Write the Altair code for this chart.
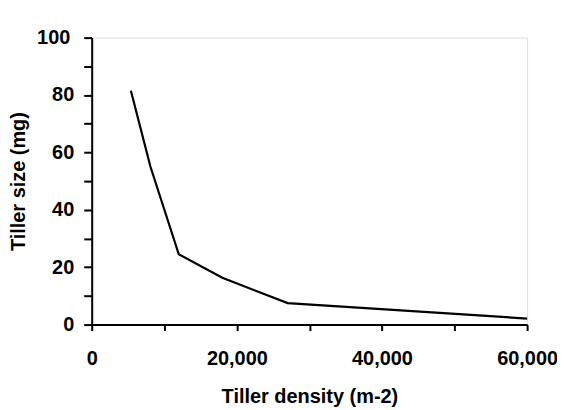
import altair as alt
import pandas as pd

density = [5400, 8100, 12000, 18000, 27000, 60000]
size_mg = [81.5, 55.0, 24.5, 16.3, 7.5, 2.1]

df = pd.DataFrame({"density": density, "size": size_mg})

FONT = "Liberation Sans"

chart = alt.Chart(df).mark_line(color="black", strokeWidth=2.2).encode(
    x=alt.X("density:Q",
            scale=alt.Scale(domain=[0, 60000], nice=False, zero=True),
            axis=alt.Axis(title="Tiller density (m-2)",
                          values=[0, 10000, 20000, 30000, 40000, 50000, 60000],
                          labelExpr="datum.value % 20000 == 0 ? format(datum.value, ',') : ''",
                          labelFlush=False, labelOverlap=False,
                          grid=False, domainColor="black", domainWidth=2,
                          tickColor="black", tickWidth=2, tickSize=6,
                          labelFont=FONT, labelFontSize=20, labelFontWeight="bold",
                          labelColor="black", labelPadding=18,
                          titleFont=FONT, titleFontSize=20, titleFontWeight="bold",
                          titleColor="black",
                          titleX=218.5, titleY=78, titleAlign="center",
                          titleBaseline="alphabetic")),
    y=alt.Y("size:Q",
            scale=alt.Scale(domain=[0, 100], nice=False),
            axis=alt.Axis(title="Tiller size (mg)",
                          values=[0, 10, 20, 30, 40, 50, 60, 70, 80, 90, 100],
                          labelExpr="datum.value % 20 == 0 ? datum.value : ''",
                          labelFlush=False, labelOverlap=False,
                          grid=False, domainColor="black", domainWidth=2,
                          tickColor="black", tickWidth=2, tickSize=8,
                          labelFont=FONT, labelFontSize=20, labelFontWeight="bold",
                          labelColor="black",
                          labelPadding={"condition": {"test": "datum.value == 100", "value": 14},
                                        "value": 10},
                          titleFont=FONT, titleFontSize=20, titleFontWeight="bold",
                          titleColor="black",
                          titleX=-73, titleY=144, titleAlign="center",
                          titleAngle=270, titleBaseline="middle")),
    order=alt.Order("density:Q"),
).properties(
    width=437, height=288,
    autosize=alt.AutoSizeParams(type="none"),
    padding={"left": 84, "top": 29, "right": 30, "bottom": 85},
).configure_view(stroke=None).configure(background="white")

chart.save("out.html", embed_options={"renderer": "svg", "actions": False})
